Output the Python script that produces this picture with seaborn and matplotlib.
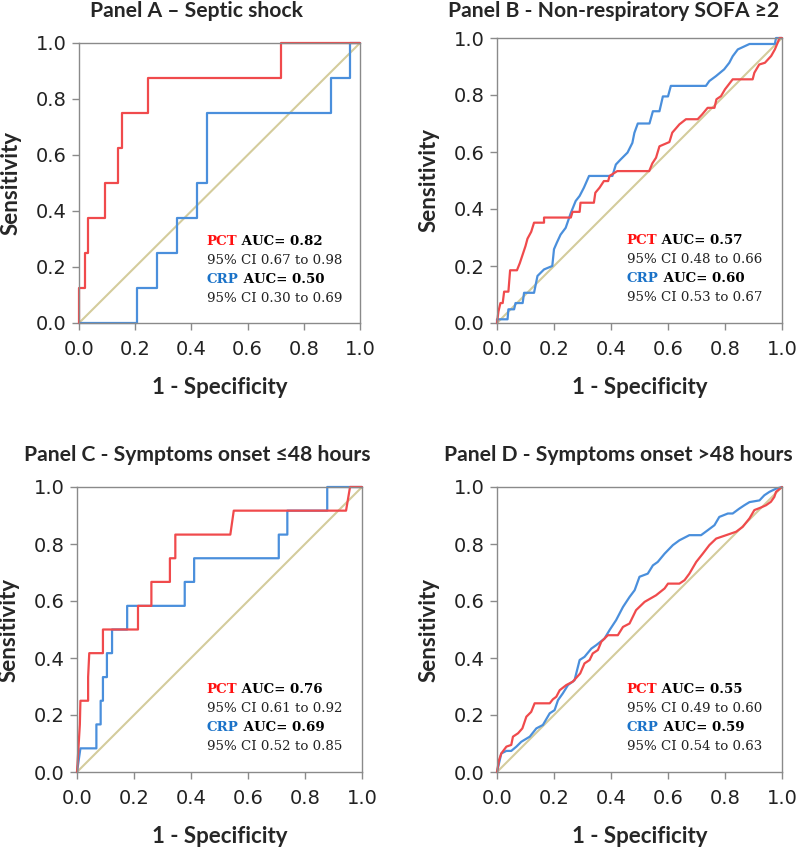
import matplotlib
matplotlib.use("Agg")
import matplotlib.pyplot as plt
import seaborn as sns

# ROC curves: 1 - specificity (fpr) and sensitivity (tpr)
# Panel A - septic shock
a_pct_fpr = [0, 0, 0.021, 0.021, 0.033, 0.033, 0.093, 0.093, 0.14, 0.14, 0.152, 0.152, 0.245, 0.245, 0.72, 0.72, 1]
a_pct_tpr = [0, 0.125, 0.125, 0.25, 0.25, 0.375, 0.375, 0.5, 0.5, 0.625, 0.625, 0.75, 0.75, 0.875, 0.875, 1.0, 1]
a_crp_fpr = [0, 0.205, 0.205, 0.279, 0.279, 0.348, 0.348, 0.421, 0.421, 0.454, 0.454, 0.896, 0.896, 0.964, 0.964, 1]
a_crp_tpr = [0, 0, 0.125, 0.125, 0.25, 0.25, 0.375, 0.375, 0.5, 0.5, 0.75, 0.75, 0.875, 0.875, 1.0, 1]

# Panel B - non-respiratory SOFA >= 2
b_pct_fpr = [0, 0.005, 0.012, 0.02, 0.025, 0.04, 0.046, 0.07, 0.08, 0.09, 0.1, 0.107, 0.12, 0.13, 0.165, 0.165,
             0.259, 0.265, 0.29, 0.293, 0.34, 0.345, 0.36, 0.375, 0.39, 0.395, 0.422, 0.534, 0.545, 0.558, 0.57,
             0.605, 0.615, 0.64, 0.663, 0.704, 0.72, 0.739, 0.763, 0.77, 0.786, 0.80, 0.827, 0.897, 0.903, 0.92,
             0.94, 0.962, 0.975, 0.985, 0.991, 1]
b_pct_tpr = [0, 0.04, 0.07, 0.07, 0.11, 0.11, 0.185, 0.185, 0.21, 0.24, 0.27, 0.296, 0.32, 0.352, 0.352, 0.37,
             0.37, 0.39, 0.39, 0.422, 0.422, 0.457, 0.475, 0.498, 0.498, 0.516, 0.533, 0.533, 0.56, 0.58, 0.62,
             0.635, 0.668, 0.697, 0.715, 0.715, 0.732, 0.755, 0.755, 0.785, 0.796, 0.82, 0.855, 0.855, 0.878, 0.907,
             0.913, 0.937, 0.96, 0.984, 1.0, 1]
b_crp_fpr = [0, 0, 0.037, 0.04, 0.06, 0.065, 0.09, 0.095, 0.13, 0.142, 0.165, 0.194, 0.2, 0.21, 0.223, 0.241,
             0.259, 0.276, 0.29, 0.305, 0.323, 0.405, 0.417, 0.434, 0.458, 0.475, 0.482, 0.494, 0.535, 0.547, 0.57,
             0.582, 0.60, 0.61, 0.733, 0.745, 0.768, 0.797, 0.815, 0.827, 0.845, 0.886, 0.975, 0.979, 1]
b_crp_tpr = [0, 0.013, 0.013, 0.048, 0.048, 0.07, 0.07, 0.106, 0.106, 0.165, 0.188, 0.2, 0.259, 0.282, 0.31, 0.334,
             0.386, 0.428, 0.446, 0.475, 0.516, 0.516, 0.556, 0.574, 0.598, 0.632, 0.667, 0.70, 0.70, 0.743, 0.743,
             0.795, 0.795, 0.832, 0.832, 0.849, 0.866, 0.89, 0.913, 0.936, 0.96, 0.979, 0.979, 1.0, 1]

# Panel C - symptoms onset <= 48 hours
c_pct_fpr = [0, 0.005, 0.01, 0.012, 0.039, 0.039, 0.043, 0.091, 0.091, 0.214, 0.214, 0.261, 0.261, 0.326, 0.326,
             0.345, 0.345, 0.538, 0.55, 0.944, 0.958, 1]
c_pct_tpr = [0, 0.083, 0.167, 0.25, 0.25, 0.333, 0.417, 0.417, 0.5, 0.5, 0.583, 0.583, 0.667, 0.667, 0.75,
             0.75, 0.833, 0.833, 0.917, 0.917, 1.0, 1]
c_crp_fpr = [0, 0.012, 0.068, 0.068, 0.083, 0.083, 0.091, 0.091, 0.105, 0.105, 0.123, 0.123, 0.176, 0.176, 0.378,
             0.378, 0.411, 0.411, 0.708, 0.708, 0.738, 0.738, 0.878, 0.878, 1]
c_crp_tpr = [0, 0.083, 0.083, 0.167, 0.167, 0.25, 0.25, 0.333, 0.333, 0.417, 0.417, 0.5, 0.5, 0.583, 0.583,
             0.667, 0.667, 0.75, 0.75, 0.833, 0.833, 0.917, 0.917, 1.0, 1]

# Panel D - symptoms onset > 48 hours
d_pct_fpr = [0, 0.007, 0.015, 0.033, 0.05, 0.056, 0.074, 0.089, 0.103, 0.12, 0.132, 0.185, 0.196, 0.208, 0.22,
             0.243, 0.266, 0.292, 0.307, 0.325, 0.336, 0.354, 0.366, 0.389, 0.424, 0.442, 0.465, 0.488, 0.518,
             0.558, 0.588, 0.6, 0.64, 0.658, 0.675, 0.699, 0.722, 0.745, 0.769, 0.804, 0.839, 0.862, 0.886,
             0.903, 0.926, 0.944, 0.961, 0.973, 0.979, 1]
d_pct_tpr = [0, 0.042, 0.065, 0.089, 0.095, 0.124, 0.136, 0.153, 0.194, 0.211, 0.241, 0.241, 0.255, 0.264, 0.287,
             0.305, 0.317, 0.346, 0.381, 0.393, 0.416, 0.428, 0.457, 0.48, 0.48, 0.509, 0.521, 0.568, 0.597,
             0.62, 0.644, 0.661, 0.661, 0.673, 0.696, 0.737, 0.766, 0.796, 0.819, 0.831, 0.843, 0.86, 0.89,
             0.919, 0.928, 0.936, 0.948, 0.965, 0.983, 1]
d_crp_fpr = [0, 0.007, 0.015, 0.033, 0.05, 0.068, 0.085, 0.115, 0.138, 0.161, 0.185, 0.202, 0.214, 0.231, 0.249,
             0.272, 0.29, 0.307, 0.331, 0.348, 0.377, 0.395, 0.418, 0.442, 0.465, 0.483, 0.5, 0.529, 0.547,
             0.564, 0.588, 0.617, 0.64, 0.675, 0.716, 0.739, 0.763, 0.78, 0.81, 0.827, 0.85, 0.868, 0.886,
             0.921, 0.938, 0.956, 0.979, 1]
d_crp_tpr = [0, 0.03, 0.065, 0.074, 0.074, 0.089, 0.106, 0.124, 0.153, 0.165, 0.206, 0.217, 0.252, 0.276, 0.305,
             0.322, 0.393, 0.404, 0.433, 0.445, 0.468, 0.498, 0.533, 0.579, 0.614, 0.638, 0.685, 0.696, 0.725,
             0.737, 0.766, 0.796, 0.813, 0.831, 0.831, 0.848, 0.866, 0.895, 0.907, 0.907, 0.924, 0.936, 0.947,
             0.953, 0.971, 0.983, 0.994, 1]

titles = ["Panel A \u2013 Septic shock", "Panel B - Non-respiratory SOFA \u22652",
          "Panel C - Symptoms onset \u226448 hours", "Panel D - Symptoms onset >48 hours"]
pct_auc = ["0.82", "0.57", "0.76", "0.55"]
pct_ci = ["0.67 to 0.98", "0.48 to 0.66", "0.61 to 0.92", "0.49 to 0.60"]
crp_auc = ["0.50", "0.60", "0.69", "0.59"]
crp_ci = ["0.30 to 0.69", "0.53 to 0.67", "0.52 to 0.85", "0.54 to 0.63"]

curves = [
    (a_pct_fpr, a_pct_tpr, a_crp_fpr, a_crp_tpr),
    (b_pct_fpr, b_pct_tpr, b_crp_fpr, b_crp_tpr),
    (c_pct_fpr, c_pct_tpr, c_crp_fpr, c_crp_tpr),
    (d_pct_fpr, d_pct_tpr, d_crp_fpr, d_crp_tpr),
]

sns.set_style("white")
plt.rcParams["font.family"] = ["DejaVu Sans"]

RED = "#f04a4c"
BLUE = "#4a8fdc"
DIAG = "#d4cc9c"
TXT_RED = "#ff1010"
TXT_BLUE = "#1a72c8"
W, H = 796, 848

fig = plt.figure(figsize=(W / 100, H / 100), dpi=100)

# axes boxes in pixels: left, top, right, bottom
boxes = [(79, 43, 360, 323), (497, 38, 782, 323), (77, 487, 362, 772), (497, 487, 782, 772)]
title_pos = [(197, 11), (614, 11), (197, 455), (618, 455)]

serif = "DejaVu Serif"
fs_note = 9.6

for i, (l, t, r, b) in enumerate(boxes):
    ax = fig.add_axes([l / W, 1 - b / H, (r - l) / W, (b - t) / H])
    pf, pt, cf, ct = curves[i]
    sns.lineplot(x=[0, 1], y=[0, 1], ax=ax, color=DIAG, lw=1.5, estimator=None, sort=False)
    sns.lineplot(x=cf, y=ct, ax=ax, color=BLUE, lw=1.6, estimator=None, sort=False, clip_on=False)
    sns.lineplot(x=pf, y=pt, ax=ax, color=RED, lw=1.6, estimator=None, sort=False, clip_on=False)
    ax.set_xlim(0, 1)
    ax.set_ylim(0, 1)
    ax.set_xticks([0, 0.2, 0.4, 0.6, 0.8, 1.0])
    ax.set_yticks([0, 0.2, 0.4, 0.6, 0.8, 1.0])
    ax.xaxis.set_major_formatter(matplotlib.ticker.FormatStrFormatter("%.1f"))
    ax.yaxis.set_major_formatter(matplotlib.ticker.FormatStrFormatter("%.1f"))
    for s in ax.spines.values():
        s.set_color("#8a8a8a")
        s.set_linewidth(1.0)
    ax.tick_params(axis="both", direction="out", length=5, width=1, color="#8a8a8a",
                   labelsize=14, labelcolor="#222222", bottom=True, left=True)
    ax.tick_params(axis="x", pad=7)
    ax.tick_params(axis="y", pad=4)
    ax.set_xlabel("1 - Specificity", fontfamily="Lato", fontweight="bold", fontsize=16, labelpad=13)
    ax.set_ylabel("Sensitivity", fontfamily="Lato", fontweight="bold", fontsize=16, labelpad=10)

    tx, ty = title_pos[i]
    fig.text(tx / W, 1 - ty / H, titles[i], ha="center", va="center",
             fontfamily="Lato", fontweight="bold", fontsize=15.2)

    # AUC annotation block
    x0 = 0.455
    rows = [0.29, 0.223, 0.156, 0.089]
    t1 = ax.text(x0, rows[0], "PCT", transform=ax.transAxes, color=TXT_RED, fontfamily=serif,
                 fontweight="bold", fontsize=fs_note, va="center")
    ax.annotate(" AUC= " + pct_auc[i], xy=(1, 0), xycoords=t1, va="bottom", color="black",
                fontfamily=serif, fontweight="bold", fontsize=fs_note)
    ax.text(x0, rows[1], "95% CI " + pct_ci[i], transform=ax.transAxes, color="#222222",
            fontfamily=serif, fontsize=fs_note, va="center")
    t2 = ax.text(x0, rows[2], "CRP", transform=ax.transAxes, color=TXT_BLUE, fontfamily=serif,
                 fontweight="bold", fontsize=fs_note, va="center")
    ax.annotate(" AUC= " + crp_auc[i], xy=(1, 0), xycoords=t2, va="bottom", color="black",
                fontfamily=serif, fontweight="bold", fontsize=fs_note)
    ax.text(x0, rows[3], "95% CI " + crp_ci[i], transform=ax.transAxes, color="#222222",
            fontfamily=serif, fontsize=fs_note, va="center")

fig.savefig("out.png", dpi=100)
